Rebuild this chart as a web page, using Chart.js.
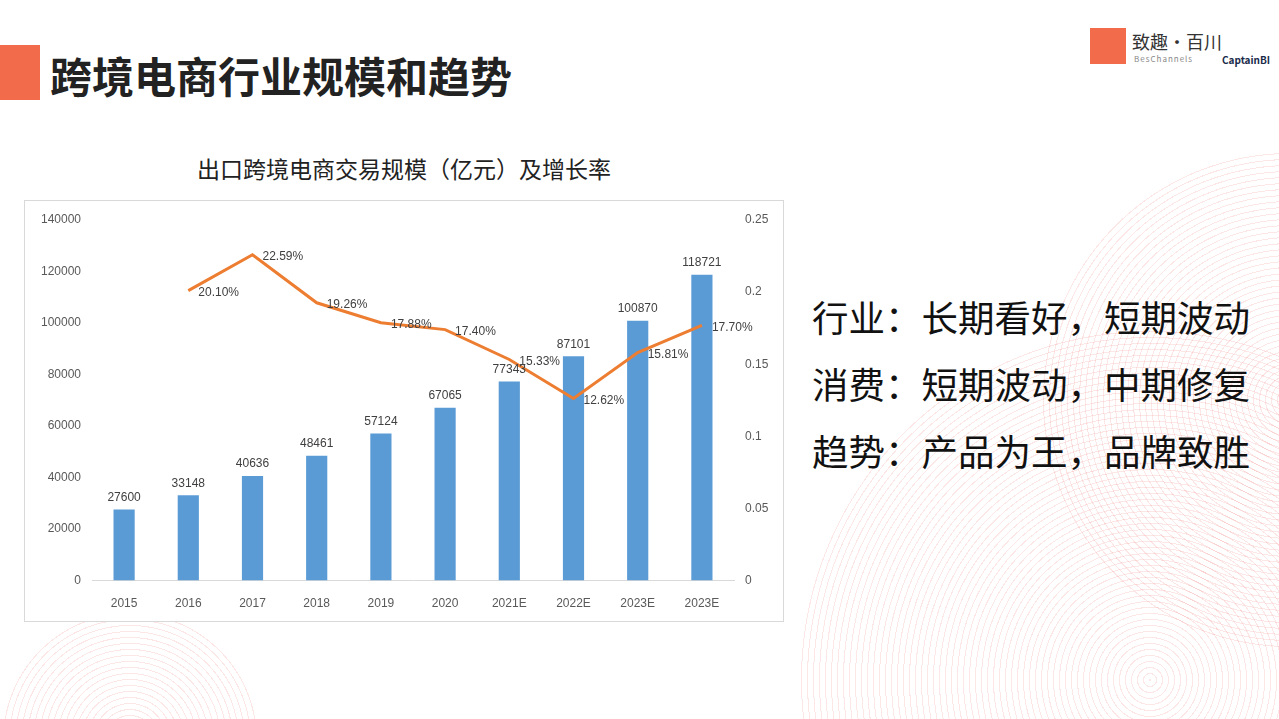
<!DOCTYPE html>
<html><head><meta charset="utf-8">
<script src="https://cdn.jsdelivr.net/npm/chart.js@4/dist/chart.umd.min.js"></script>
<style>
  body{margin:0;width:1279px;height:719px;position:relative;overflow:hidden;background:#fff;font-family:"Noto Sans CJK SC","Noto Sans",sans-serif;}
  .rings{position:absolute;border-radius:50%;background:repeating-radial-gradient(circle,rgba(240,120,120,0.18) 0 1px,transparent 1px 6px);}
  #bar{position:absolute;left:0;top:45px;width:40px;height:55px;background:#f26b4a;}
  #head{position:absolute;left:50px;top:44px;font-size:42px;font-weight:bold;color:#222;}
  #ctitle{position:absolute;left:24px;width:760px;top:151px;text-align:center;font-size:23px;color:#222;}
  #box{position:absolute;left:24px;top:200px;width:760px;height:422px;border:1px solid #d9d9d9;box-sizing:border-box;background:#fff;}
  .side{position:absolute;left:812px;font-size:36.5px;color:#111;}
  #logo1{position:absolute;left:1090px;top:28px;width:36px;height:36px;background:#f26b4a;}
  #logo1t{position:absolute;left:1132px;top:28px;font-size:18px;color:#333;}
  #logo1s{position:absolute;left:1134px;top:53px;font-size:8px;color:#888;letter-spacing:1px;}
  #logo2{position:absolute;left:1222px;top:52px;font-size:10px;color:#1a2b4a;font-weight:bold;}
</style></head>
<body>
<div class="rings" style="left:800px;top:330px;width:700px;height:700px;"></div>
<div class="rings" style="left:1040px;top:150px;width:500px;height:500px;"></div>
<div class="rings" style="left:0px;top:610px;width:260px;height:260px;"></div>
<div id="bar"></div>
<div id="head">跨境电商行业规模和趋势</div>
<div id="logo1"></div><div id="logo1t">致趣·百川</div><div id="logo1s">BesChannels</div>
<div id="logo2">CaptainBI</div>
<div id="ctitle">出口跨境电商交易规模（亿元）及增长率</div>
<div id="box"><canvas id="c" width="758" height="420"></canvas></div>
<div class="side" style="top:290px">行业：长期看好，短期波动</div>
<div class="side" style="top:357px">消费：短期波动，中期修复</div>
<div class="side" style="top:424px">趋势：产品为王，品牌致胜</div>
<script>
const categories = ["2015","2016","2017","2018","2019","2020","2021E","2022E","2023E","2023E"];
const scaleValues = [27600,33148,40636,48461,57124,67065,77343,87101,100870,118721];
const growthRates = [null,0.2010,0.2259,0.1926,0.1788,0.1740,0.1533,0.1262,0.1581,0.1770];

const labelPlugin = {
  id: "labels",
  afterDatasetsDraw(chart) {
    const ctx = chart.ctx;
    ctx.save();
    ctx.font = "12px 'Liberation Sans', sans-serif";
    ctx.fillStyle = "#404040";
    chart.getDatasetMeta(0).data.forEach((el, i) => {
      ctx.textAlign = "center"; ctx.textBaseline = "bottom";
      ctx.fillText(scaleValues[i], el.x, el.y - 6);
    });
    chart.getDatasetMeta(1).data.forEach((el, i) => {
      if (growthRates[i] == null) return;
      ctx.textAlign = "left"; ctx.textBaseline = "middle";
      ctx.fillText((growthRates[i] * 100).toFixed(2) + "%", el.x + 10, el.y + 2);
    });
    ctx.restore();
  }
};

new Chart(document.getElementById("c"), {
  type: "bar",
  data: {
    labels: categories,
    datasets: [
      { type: "bar", data: scaleValues, backgroundColor: "#5b9bd5", yAxisID: "y", barPercentage: 0.33, categoryPercentage: 1, order: 2 },
      { type: "line", data: growthRates, borderColor: "#ed7d31", borderWidth: 3, pointRadius: 0, yAxisID: "y1", order: 1, spanGaps: false }
    ]
  },
  options: {
    responsive: false, animation: false,
    layout: { padding: { top: 19, bottom: 2, left: 0, right: 0 } },
    plugins: { legend: { display: false }, tooltip: { enabled: false } },
    scales: {
      x: { grid: { display: false }, border: { color: "#d9d9d9" },
           ticks: { color: "#595959", font: { size: 12, family: "Liberation Sans" }, padding: 8 } },
      y: { min: 0, max: 140000, ticks: { stepSize: 20000, color: "#595959", font: { size: 12, family: "Liberation Sans" }, callback: v => String(v) },
           grid: { display: false }, border: { display: false },
           afterFit(s) { s.width = 67; } },
      y1: { position: "right", min: 0, max: 0.25, ticks: { stepSize: 0.05, color: "#595959", font: { size: 12, family: "Liberation Sans" }, callback: v => +v.toFixed(2) },
            grid: { display: false }, border: { display: false },
            afterFit(s) { s.width = 49; } }
    }
  },
  plugins: [labelPlugin]
});
</script>
</body></html>
